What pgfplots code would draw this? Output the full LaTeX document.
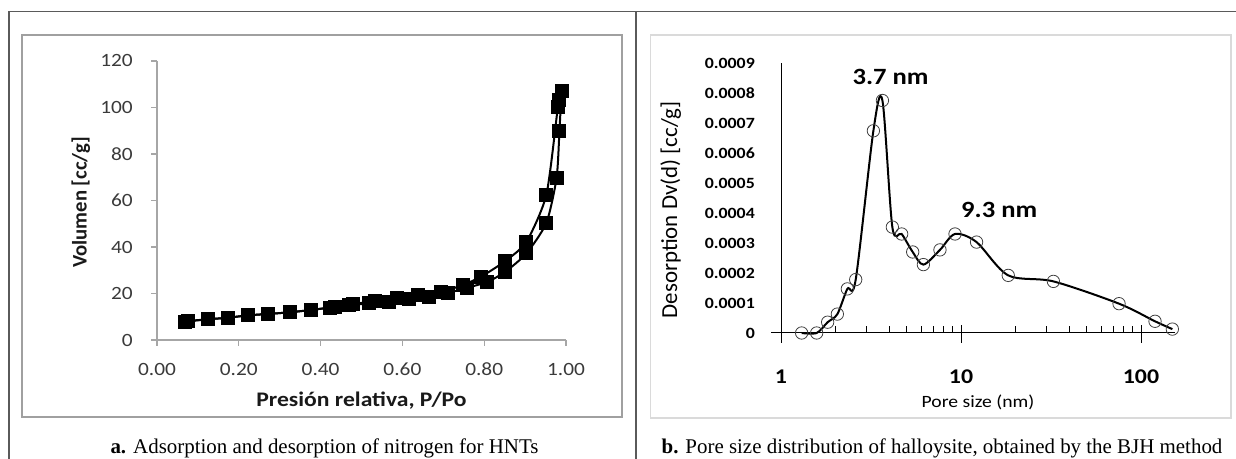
\documentclass[border=0pt]{standalone}
\usepackage{fontspec}
\setmainfont{Carlito}[FakeStretch=1.14]
\newfontfamily\rotfont{Carlito}
\newfontfamily\capfont{Liberation Serif}
\usepackage{pgfplots}
\usepackage{pgfplotstable}
\pgfplotsset{compat=1.18}
\definecolor{axgray}{HTML}{A6A6A6}
\definecolor{tickgray}{HTML}{3A3A3A}
\definecolor{framegray}{HTML}{5A5A5A}
\definecolor{boxa}{HTML}{A0A0A0}
\definecolor{boxb}{HTML}{DADADA}

\pgfplotstableread{
x y
0.068 7.9
0.125 8.9
0.174 9.6
0.223 10.6
0.272 11.2
0.324 11.9
0.376 12.9
0.422 13.9
0.469 15.0
0.518 15.7
0.567 16.5
0.616 17.6
0.665 18.6
0.712 20.3
0.759 22.5
0.808 25.0
0.851 29.3
0.903 37.2
0.952 50.4
0.977 69.8
0.984 90.1
0.989 106.9
}\adsorption

\pgfplotstableread{
x y
0.989 106.9
0.984 103.4
0.980 100.1
0.952 62.5
0.903 42.2
0.851 33.9
0.792 27.2
0.747 23.6
0.694 20.7
0.637 19.3
0.588 17.9
0.534 16.7
0.480 15.5
0.436 14.3
0.376 12.9
0.324 11.9
0.272 11.2
0.223 10.6
0.174 9.6
0.125 8.9
0.076 8.2
}\desorption

\pgfplotstableread{
x y
1.302 0
1.578 0
1.816 0.000036
2.056 0.000063
2.336 0.000147
2.60 0.000178
3.26 0.000674
3.66 0.000775
4.155 0.000353
4.68 0.000330
5.39 0.000270
6.18 0.000228
7.64 0.000277
9.26 0.000330
12.2 0.000303
18.3 0.000192
32.6 0.000172
75.5 0.0000977
119.6 0.000039
149.3 0.000013
}\poresize

\begin{document}
\begin{tikzpicture}[x=1bp,y=1bp]
\path[use as bounding box] (0,0) rectangle (1236,459);
% frame
\draw[framegray, line width=1.5bp] (9,0) -- (9,447.5) -- (1236,447.5);
\draw[framegray, line width=1.5bp] (636,0) -- (636,447.5);
% chart boxes
\draw[boxa, line width=1.6bp] (22,42) rectangle (622,424);
\draw[boxb, line width=1.5bp] (650.5,41) rectangle (1231,424);

% ---------- panel a ----------
\begin{axis}[
  at={(157bp,119bp)}, anchor=south west,
  scale only axis, width=409bp, height=279bp,
  xmin=0, xmax=1, ymin=0, ymax=120,
  axis x line*=bottom, axis y line*=left,
  xtick pos=bottom, ytick pos=left,
  axis line style={axgray, line width=1.2bp},
  tick style={axgray, line width=1.2bp},
  tick align=outside, major tick length=6bp,
  xtick={0,0.2,0.4,0.6,0.8,1},
  xticklabels={0.00,0.20,0.40,0.60,0.80,1.00},
  ytick={0,20,40,60,80,100,120},
  yticklabels={0,20,40,60,80,100,120},
  ticklabel style={font=\fontsize{18.8}{20}\selectfont, text=tickgray, inner sep=0pt},
  xticklabel style={anchor=north, yshift=-16.7bp},
  yticklabel style={anchor=east, xshift=-18bp},
  clip=false,
]
\addplot[black, line width=2bp, smooth, tension=0.4, mark=square*, mark size=6bp, mark options={fill=black}] table[x=x,y=y] {\adsorption};
\addplot[black, line width=2bp, smooth, tension=0.4, mark=square*, mark size=6bp, mark options={fill=black}] table[x=x,y=y] {\desorption};
\end{axis}
\node[anchor=base, font=\fontsize{20.8}{24}\selectfont\bfseries, text=black!90] at (361.5,52.3) {Presión relativa, P/Po};
\node[anchor=base, rotate=90, font=\rotfont\fontsize{20.8}{24}\selectfont\bfseries, text=black!90] at (86.5,256.5) {Volumen [cc/g]};

% ---------- panel b ----------
\begin{axis}[
  at={(781bp,126bp)}, anchor=south west,
  scale only axis, width=394bp, height=270bp,
  xmode=log, xmin=1, xmax=154.5, ymin=0, ymax=0.0009,
  axis x line*=bottom, axis y line*=left,
  xtick pos=bottom, ytick pos=left,
  axis line style={black, line width=1bp},
  x axis line style={shorten <=-10bp},
  y axis line style={shorten <=-10bp},
  tick style={black, line width=1bp},
  tick align=inside, major tick length=18bp, minor tick length=7bp,
  every major x tick/.append style={yshift=-10bp},
  ytick style={draw=none},
  xtick={1,10,100},
  xticklabels={1,10,100},
  minor xtick={2,3,4,5,6,7,8,9,20,30,40,50,60,70,80,90},
  scaled y ticks=false,
  ytick={0,0.0001,0.0002,0.0003,0.0004,0.0005,0.0006,0.0007,0.0008,0.0009},
  yticklabels={0,0.0001,0.0002,0.0003,0.0004,0.0005,0.0006,0.0007,0.0008,0.0009},
  ticklabel style={inner sep=0pt, text=black},
  xticklabel style={font=\fontsize{21}{23}\selectfont\bfseries, anchor=north, yshift=-37bp},
  yticklabel style={font=\fontsize{15.7}{17}\selectfont\bfseries, anchor=east, xshift=-26bp},
  clip=false,
]
\addplot[black, line width=2bp, smooth, tension=0.5, mark=o, mark size=6.2bp, mark options={draw=black!75, line width=0.8bp, fill=none}] table[x=x,y=y] {\poresize};
\node[anchor=base, font=\fontsize{23.4}{26}\selectfont\bfseries] at (axis cs:4.06,0.000829) {3.7 nm};
\node[anchor=base, font=\fontsize{23.4}{26}\selectfont\bfseries] at (axis cs:16.3,0.0003857) {9.3 nm};
\end{axis}
\node[anchor=base, font=\fontsize{17.3}{20}\selectfont] at (978,51.5) {Pore size (nm)};
\node[anchor=base, rotate=90, font=\rotfont\fontsize{23}{26}\selectfont] at (677,249) {Desorption Dv(d) [cc/g]};

% captions
\node[anchor=base, font=\capfont\fontsize{21}{24}\selectfont] at (324.5,5.5) {\textbf{a.} Adsorption and desorption of nitrogen for HNTs};
\node[anchor=base, font=\capfont\fontsize{21}{24}\selectfont] at (942,5.5) {\textbf{b.} Pore size distribution of halloysite, obtained by the BJH method};
\end{tikzpicture}
\end{document}
